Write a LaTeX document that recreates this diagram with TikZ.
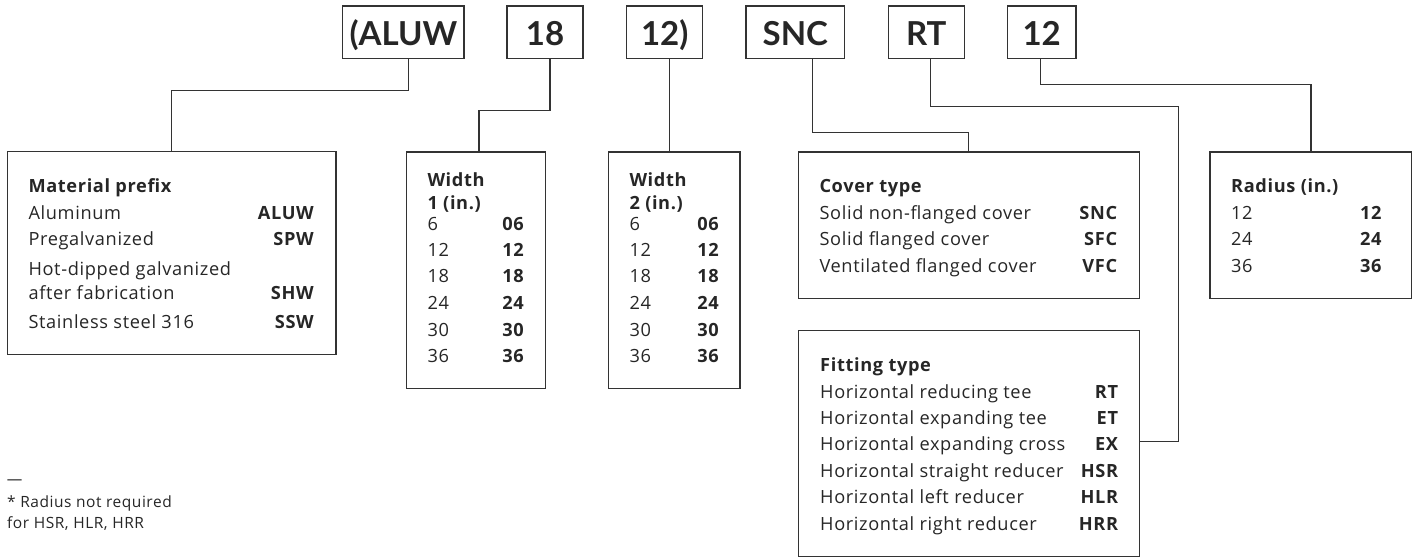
\documentclass[tikz,border=0pt]{standalone}
\usepackage{fontspec}
\setmainfont{Open Sans}[LetterSpace=3.5]
\newfontfamily\topfont{Lato}
\usetikzlibrary{calc}
\definecolor{ink}{HTML}{262626}
\definecolor{linec}{HTML}{333333}
\begin{document}
\begin{tikzpicture}[x=1pt,y=-1pt,
  topbox/.style={draw=linec,line width=1.3pt,inner sep=0pt,outer sep=0pt,minimum height=52.3pt,text height=25.7pt,text depth=0pt,font=\topfont\fontsize{33}{36}\selectfont\bfseries,text=ink},
  infobox/.style={draw=linec,line width=1.3pt,inner sep=0pt,outer sep=0pt},
  lt/.style={anchor=base west,inner sep=0pt,font=\fontsize{18.2}{20}\selectfont,text=ink},
  hd/.style={anchor=base west,inner sep=0pt,font=\fontsize{18.2}{20}\selectfont\bfseries,text=ink},
  cd/.style={anchor=base east,inner sep=0pt,font=\fontsize{18.2}{20}\selectfont\bfseries,text=ink},
  fn/.style={anchor=base west,inner sep=0pt,font=\fontsize{15.5}{18}\selectfont,text=ink},
  conn/.style={draw=linec,line width=1.3pt}]
\useasboundingbox (0,0) rectangle (1419,558);

% top code boxes
\node[topbox,minimum width=121.3pt] (aluw) at (403.35,32.15) {(ALUW};
\node[topbox,minimum width=76pt] (b18) at (545,32.15) {18};
\node[topbox,minimum width=76pt] (b12p) at (664.7,32.15) {12)};
\node[topbox,minimum width=98.7pt] (snc) at (795.35,32.15) {SNC};
\node[topbox,minimum width=76pt] (rt) at (926.3,32.15) {RT};
\node[topbox,minimum width=68.7pt] (r12) at (1041.65,32.15) {12};

% info boxes
\node[infobox,minimum width=328.7pt,minimum height=202.6pt] (mat) at (171.65,253) {};
\node[infobox,minimum width=138.6pt,minimum height=236.7pt] (w1) at (476,270.35) {};
\node[infobox,minimum width=131.7pt,minimum height=236.7pt] (w2) at (674.15,270.35) {};
\node[infobox,minimum width=341pt,minimum height=146.3pt] (cov) at (968.8,225.15) {};
\node[infobox,minimum width=201.7pt,minimum height=146.3pt] (rad) at (1310.85,225.15) {};
\node[infobox,minimum width=341pt,minimum height=226pt] (fit) at (968.8,443.7) {};

% connectors
\coordinate (ka) at (408.7,90.7);
\draw[conn] (aluw.south -| ka) -- (ka) -| (mat.north);
\coordinate (kb) at (550,110.7);
\coordinate (xb) at (479,0);
\draw[conn] (b18.south -| kb) -- (kb) -| (w1.north -| xb);
\coordinate (xc) at (669.3,0);
\draw[conn] (b12p.south -| xc) -- (w2.north -| xc);
\coordinate (kd) at (812.3,132.3);
\draw[conn] (snc.south -| kd) -- (kd) -| (cov.north);
\coordinate (ke) at (930.7,106.7);
\coordinate (ke2) at (1178.5,441.2);
\draw[conn] (rt.south -| ke) -- (ke) -| (ke2) -- (fit.east |- ke2);
\coordinate (kf) at (1040.7,84.7);
\draw[conn] (r12.south -| kf) -- (kf) -| (rad.north);

% material prefix
\node[hd] (mh) at (28.3,192.3) {Material prefix};
\node[lt] (m1) at (28.3,219.3) {Aluminum};
\node[cd] (m1c) at (314,219.3) {ALUW};
\node[lt] (m2) at (28.3,245.3) {Pregalvanized};
\node[cd] (m2c) at (314,245.3) {SPW};
\node[lt] (m3) at (28.3,275) {Hot-dipped galvanized};
\node[lt] (m3b) at (28.3,299.3) {after fabrication};
\node[cd] (m3c) at (314,299.3) {SHW};
\node[lt] (m4) at (28.3,328.3) {Stainless steel 316};
\node[cd] (m4c) at (314,328.3) {SSW};

% width 1 and width 2
\node[hd] (w1h) at (427.3,186.7) {Width};
\node[hd] (w1h2) at (427.3,209.3) {1 (in.)};
\node[hd] (w2h) at (629.3,186.7) {Width};
\node[hd] (w2h2) at (629.3,209.3) {2 (in.)};
\foreach \a/\b/\y [count=\i] in {6/06/230, 12/12/256, 18/18/282.7, 24/24/309.3, 30/30/336, 36/36/362.7}{
  \node[lt] (w1l\i) at (427.3,\y) {\a};
  \node[cd] (w1r\i) at (524,\y) {\b};
  \node[lt] (w2l\i) at (629.3,\y) {\a};
  \node[cd] (w2r\i) at (719,\y) {\b};
}

% cover type
\node[hd] (ch) at (819.3,192.3) {Cover type};
\node[lt] (c1) at (819.3,219) {Solid non-flanged cover};
\node[cd] (c1c) at (1117.3,219) {SNC};
\node[lt] (c2) at (819.3,245.3) {Solid flanged cover};
\node[cd] (c2c) at (1117.3,245.3) {SFC};
\node[lt] (c3) at (819.3,272.3) {Ventilated flanged cover};
\node[cd] (c3c) at (1117.3,272.3) {VFC};

% radius
\node[hd] (rh) at (1231,192.3) {Radius (in.)};
\foreach \a/\y [count=\i] in {12/219, 24/245.3, 36/272.3}{
  \node[lt] (rl\i) at (1231,\y) {\a};
  \node[cd] (rr\i) at (1381.7,\y) {\a};
}

% fitting type
\node[hd] (fh) at (820,371.7) {Fitting type};
\foreach \a/\b/\y [count=\i] in {Horizontal reducing tee/RT/398.3, Horizontal expanding tee/ET/424.3, Horizontal expanding cross/EX/450.7, Horizontal straight reducer/HSR/477.3, Horizontal left reducer/HLR/503.7, Horizontal right reducer/HRR/530.7}{
  \node[lt] (fl\i) at (820,\y) {\a};
  \node[cd] (fr\i) at (1118.3,\y) {\b};
}

% footnote
\node[fn] (dash) at (6.7,484.7) {—};
\node[fn] (f1) at (7,507.3) {* Radius not required};
\node[fn] (f2) at (7,528.3) {for HSR, HLR, HRR};
\end{tikzpicture}
\end{document}
